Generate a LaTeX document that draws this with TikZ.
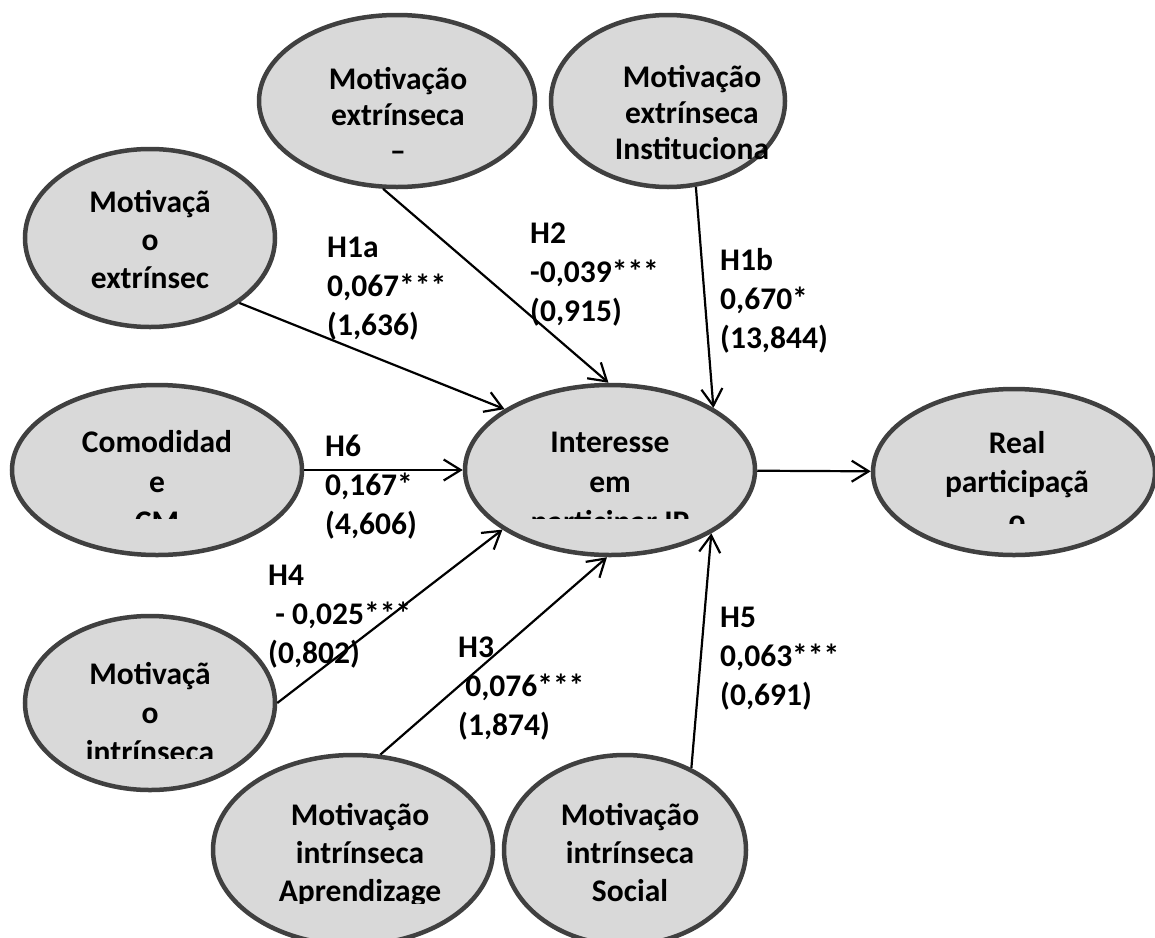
\documentclass[tikz,border=0pt]{standalone}
\usepackage{fontspec}
\setmainfont{Carlito}
\usetikzlibrary{shapes.geometric,arrows.meta}
\definecolor{ovalline}{HTML}{404040}
\definecolor{ovalfill}{HTML}{D9D9D9}

\begin{document}
\begin{tikzpicture}[x=1pt,y=-1pt,inner sep=0pt,
  latent/.style={ellipse,draw=ovalline,fill=ovalfill,line width=4.5pt},
  txt/.style={anchor=base,font=\fontsize{31.5}{38}\selectfont\bfseries},
  coef/.style={anchor=base west,font=\fontsize{31.5}{39}\selectfont\bfseries},
  link/.style={line width=2.2pt,-{Straight Barb[length=17pt,width=21pt]}}]
\clip (0,0) rectangle (1155,937);
\fill[white] (0,0) rectangle (1155,937);

% latent variables
\node[latent,minimum width=250,minimum height=178] (mextr) at (150,238) {};
\node[latent,minimum width=276,minimum height=172] (mexta) at (397,101) {};
\node[latent,minimum width=234,minimum height=172] (minst) at (668,101) {};
\node[latent,minimum width=290,minimum height=170] (comod) at (157,470) {};
\node[latent,minimum width=290,minimum height=170] (inter) at (610,470) {};
\node[latent,minimum width=282,minimum height=166] (real) at (1014,472) {};
\node[latent,minimum width=250,minimum height=174] (mintr) at (150,703) {};
\node[latent,minimum width=280,minimum height=190] (mapre) at (353,850) {};
\node[latent,minimum width=242,minimum height=190] (msoci) at (625,850) {};

% texts cut at the bottom of their boxes
\begin{scope}
\clip (20,150) rectangle (280,290);
\node[txt] (mextrtxt) at (150,212) {\begin{tabular}[t]{@{}c@{}}Motivaçã\\o\\extrínsec\end{tabular}};
\end{scope}
\begin{scope}
\clip (260,10) rectangle (535,170);
\node[txt,font=\fontsize{31.5}{36}\selectfont\bfseries] (mextatxt) at (398,89) {\begin{tabular}[t]{@{}c@{}}Motivação\\extrínseca\\–\end{tabular}};
\end{scope}
\begin{scope}
\clip (550,10) rectangle (785,161);
\node[txt,font=\fontsize{31.5}{36}\selectfont\bfseries] (minsttxt) at (692,87) {\begin{tabular}[t]{@{}c@{}}Motivação\\extrínseca\\Instituciona\end{tabular}};
\end{scope}
\begin{scope}
\clip (10,385) rectangle (305,518);
\node[txt,font=\fontsize{31.5}{40}\selectfont\bfseries] (comodtxt) at (157,452) {\begin{tabular}[t]{@{}c@{}}Comodidad\\e\\CM\end{tabular}};
\end{scope}
\begin{scope}
\clip (465,385) rectangle (755,518);
\node[txt,font=\fontsize{31.5}{40}\selectfont\bfseries] (intertxt) at (610,452) {\begin{tabular}[t]{@{}c@{}}Interesse\\em\\participar IP\end{tabular}};
\end{scope}
\begin{scope}
\clip (872,390) rectangle (1155,523);
\node[txt,font=\fontsize{31.5}{39}\selectfont\bfseries] (realtxt) at (1017,453) {\begin{tabular}[t]{@{}c@{}}Real\\participaçã\\o\end{tabular}};
\end{scope}
\begin{scope}
\clip (20,615) rectangle (280,758);
\node[txt,font=\fontsize{31.5}{39}\selectfont\bfseries] (mintrtxt) at (150,684) {\begin{tabular}[t]{@{}c@{}}Motivaçã\\o\\intrínseca\end{tabular}};
\end{scope}
\begin{scope}
\clip (215,755) rectangle (495,903);
\node[txt] (mapretxt) at (360,825) {\begin{tabular}[t]{@{}c@{}}Motivação\\intrínseca\\Aprendizage\end{tabular}};
\end{scope}
\begin{scope}
\clip (505,755) rectangle (748,903);
\node[txt] (msocitxt) at (630,825) {\begin{tabular}[t]{@{}c@{}}Motivação\\intrínseca\\Social\end{tabular}};
\end{scope}

% paths
\draw[link] (mextr.-36) -- (inter.150.7);
\draw[link] (mexta.261) -- (inter.91.3);
\draw[link] (minst.288) -- (inter.31.3);
\draw[link] (comod) -- (inter);
\draw[link] (inter) -- (real);
\draw[link] (mintr.0) -- (inter.209.8);
\draw[link] (mapre.74.7) -- (inter.268);
\draw[link] (msoci.51.3) -- (inter.328.7);

% coefficients
\node[coef] (h1a) at (327,257) {\begin{tabular}[t]{@{}l@{}}H1a\\0,067***\\(1,636)\end{tabular}};
\node[coef] (h2) at (530,243) {\begin{tabular}[t]{@{}l@{}}H2\\-0,039***\\(0,915)\end{tabular}};
\node[coef] (h1b) at (720,270) {\begin{tabular}[t]{@{}l@{}}H1b\\0,670*\\(13,844)\end{tabular}};
\node[coef] (h6) at (325,456) {\begin{tabular}[t]{@{}l@{}}H6\\0,167*\\(4,606)\end{tabular}};
\node[coef] (h4) at (268,585) {\begin{tabular}[t]{@{}l@{}}H4\\\ - 0,025***\\(0,802)\end{tabular}};
\node[coef] (h3) at (458,657) {\begin{tabular}[t]{@{}l@{}}H3\\\ 0,076***\\(1,874)\end{tabular}};
\node[coef] (h5) at (720,627) {\begin{tabular}[t]{@{}l@{}}H5\\0,063***\\(0,691)\end{tabular}};
\end{tikzpicture}
\end{document}
